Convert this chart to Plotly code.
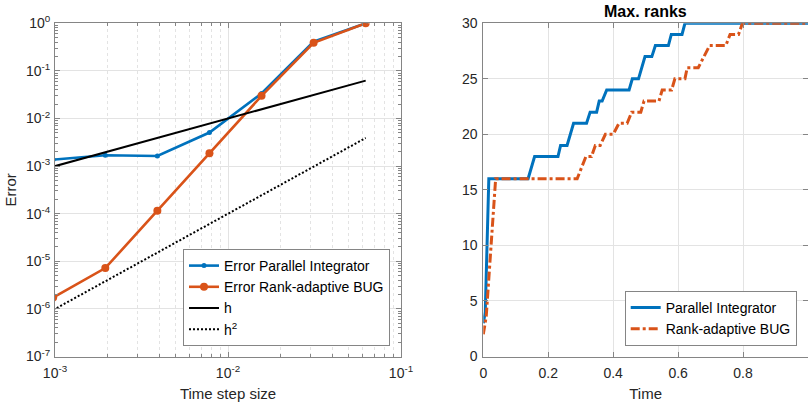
import plotly.graph_objects as go

# ---------------- data: left panel (error vs time step) ----------------
step_size = [1/1024, 1/512, 1/256, 1/128, 1/64, 1/32, 1/16]
err_parallel = [1.37e-3, 1.69e-3, 1.63e-3, 5.07e-3, 3.36e-2, 0.41, 1.0]
err_bug = [1.73e-6, 7.2e-6, 1.16e-4, 1.86e-3, 2.99e-2, 0.39, 1.0]
ref_h = [9.77e-4, 1.95e-3, 3.91e-3, 7.81e-3, 1.56e-2, 3.13e-2, 6.25e-2]
ref_h2 = [9.5e-7, 3.8e-6, 1.53e-5, 6.1e-5, 2.44e-4, 9.77e-4, 3.9e-3]

x_tick_vals = [1e-3, 1e-2, 1e-1]
x_tick_text = ["10<sup>-3</sup>", "10<sup>-2</sup>", "10<sup>-1</sup>"]
y_tick_vals = [1e-7, 1e-6, 1e-5, 1e-4, 1e-3, 1e-2, 1e-1, 1e0]
y_tick_text = ["10<sup>-7</sup>", "10<sup>-6</sup>", "10<sup>-5</sup>", "10<sup>-4</sup>",
               "10<sup>-3</sup>", "10<sup>-2</sup>", "10<sup>-1</sup>", "10<sup>0</sup>"]

# ---------------- data: right panel (max ranks vs time) ----------------
t_parallel = [0, 0.006, 0.017, 0.138, 0.158, 0.230, 0.238, 0.258, 0.278, 0.318,
              0.329, 0.349, 0.357, 0.366, 0.380, 0.449, 0.459, 0.478, 0.498, 0.519,
              0.530, 0.570, 0.579, 0.612, 0.621, 1.0]
r_parallel = [3, 4, 16, 16, 18, 18, 19, 19, 21, 21,
              22, 22, 23, 23, 24, 24, 25, 25, 27, 27,
              28, 28, 29, 29, 30, 30]
t_bug = [0, 0.009, 0.038, 0.289, 0.316, 0.333, 0.345, 0.360, 0.376, 0.400,
         0.418, 0.443, 0.457, 0.485, 0.495, 0.541, 0.551, 0.580, 0.590, 0.621,
         0.628, 0.662, 0.697, 0.747, 0.760, 0.786, 0.798, 1.0]
r_bug = [2, 3.6, 16, 16, 18, 18, 19, 19, 20, 20,
         21, 21, 22, 22, 23, 23, 24, 24, 25, 25,
         26, 26, 28, 28, 29, 29, 30, 30]

BLUE = "#0072BD"
ORANGE = "#D95319"
FONT = "Liberation Sans, Arial, sans-serif"
TXT = "#262626"
AX = "#858585"
GRID = "#e3e3e3"

W, H = 808, 402

# minor log positions (2..9 within each decade)
x_minor = [m * 10.0 ** e for e in (-3, -2) for m in range(2, 10)]
y_minor = [m * 10.0 ** e for e in range(-7, 0) for m in range(2, 10)]

fig = go.Figure()

fig.add_trace(go.Scatter(x=step_size, y=err_parallel, mode="lines+markers",
                         name="Error Parallel Integrator",
                         line=dict(color=BLUE, width=2.6),
                         marker=dict(color=BLUE, size=5),
                         xaxis="x", yaxis="y", legend="legend"))
fig.add_trace(go.Scatter(x=step_size, y=err_bug, mode="lines+markers",
                         name="Error Rank-adaptive BUG",
                         line=dict(color=ORANGE, width=2.6),
                         marker=dict(color=ORANGE, size=8),
                         xaxis="x", yaxis="y", legend="legend"))
fig.add_trace(go.Scatter(x=step_size, y=ref_h, mode="lines", name="h",
                         line=dict(color="black", width=2),
                         xaxis="x", yaxis="y", legend="legend"))
fig.add_trace(go.Scatter(x=step_size, y=ref_h2, mode="lines", name="h<sup>2</sup>",
                         line=dict(color="black", width=2, dash="2px,2px"),
                         xaxis="x", yaxis="y", legend="legend"))

fig.add_trace(go.Scatter(x=t_parallel, y=r_parallel, mode="lines",
                         name="Parallel Integrator",
                         line=dict(color=BLUE, width=3),
                         xaxis="x2", yaxis="y2", legend="legend2"))
fig.add_trace(go.Scatter(x=t_bug, y=r_bug, mode="lines",
                         name="Rank-adaptive BUG",
                         line=dict(color=ORANGE, width=3, dash="9px,3px,3px,3px"),
                         xaxis="x2", yaxis="y2", legend="legend2"))

ytop = (H - 23.3) / H
ybot = (H - 356.5) / H

common = dict(showline=True, linecolor=AX, linewidth=1, mirror="ticks",
              ticks="inside", ticklen=5, tickcolor=AX, automargin=False,
              tickfont=dict(family=FONT, size=14, color=TXT),
              showgrid=True, gridcolor=GRID, gridwidth=1, zeroline=False)

fig.update_layout(
    width=W, height=H,
    margin=dict(l=0, r=0, t=0, b=0),
    paper_bgcolor="white", plot_bgcolor="white",
    font=dict(family=FONT, color=TXT),
    showlegend=True,
    xaxis=dict(type="log", range=[-3, -1], domain=[55 / W, 401 / W], anchor="y",
               tickmode="array", tickvals=x_tick_vals, ticktext=x_tick_text,
               ticklabelstandoff=4,
               minor=dict(tickmode="array", tickvals=x_minor, ticks="inside", ticklen=3,
                          tickcolor=AX, showgrid=True, gridcolor=GRID, griddash="dot"),
               title=dict(text="Time step size", font=dict(family=FONT, size=15, color=TXT),
                          standoff=10),
               **common),
    yaxis=dict(type="log", range=[-7, 0], domain=[ybot, ytop], anchor="x",
               tickmode="array", tickvals=y_tick_vals, ticktext=y_tick_text,
               ticklabelstandoff=1,
               minor=dict(tickmode="array", tickvals=y_minor, ticks="inside", ticklen=3,
                          tickcolor=AX, showgrid=False),
               title=dict(text="Error", font=dict(family=FONT, size=15, color=TXT),
                          standoff=5),
               **common),
    xaxis2=dict(range=[0, 1], domain=[483.3 / W, 1.0], anchor="y2",
                dtick=0.2, tickformat="~g", ticklabelstandoff=4,
                title=dict(text="Time", font=dict(family=FONT, size=15, color=TXT),
                           standoff=11),
                **common),
    yaxis2=dict(range=[0, 30], domain=[ybot, ytop], anchor="x2", dtick=5,
                ticklabelstandoff=2,
                **common),
    legend=dict(x=390 / W, y=(H - 346) / H, xanchor="right", yanchor="bottom",
                bgcolor="white", bordercolor=AX, borderwidth=1,
                font=dict(family=FONT, size=14, color="black"),
                itemwidth=30, tracegroupgap=0),
    legend2=dict(x=796.7 / W, y=(H - 346) / H, xanchor="right", yanchor="bottom",
                 bgcolor="white", bordercolor=AX, borderwidth=1,
                 font=dict(family=FONT, size=14, color="black"),
                 itemwidth=30, tracegroupgap=0),
    annotations=[dict(text="<b>Max. ranks</b>", x=(483.3 + 808) / 2 / W, y=(H - 12) / H,
                      xref="paper", yref="paper", showarrow=False,
                      xanchor="center", yanchor="middle",
                      font=dict(family=FONT, size=16, color="black"))],
)

fig.write_html("out.html")
